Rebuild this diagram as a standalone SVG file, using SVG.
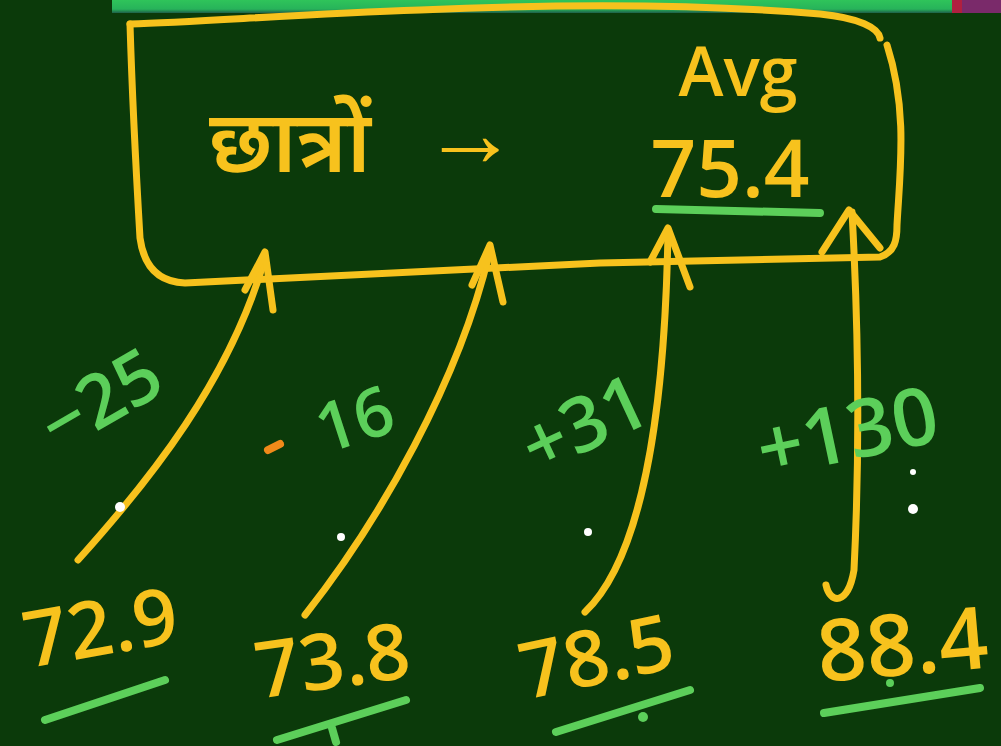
<svg xmlns="http://www.w3.org/2000/svg" width="1001" height="746" viewBox="0 0 1001 746">
<defs>
<linearGradient id="band" x1="0" y1="0" x2="0" y2="1">
<stop offset="0" stop-color="#2fc45a"/>
<stop offset="0.7" stop-color="#27b35a"/>
<stop offset="1" stop-color="#1f5f4a"/>
</linearGradient>
<style>
.y{fill:none;stroke:#f7c21d;stroke-width:7;stroke-linecap:round;stroke-linejoin:round}
.g{fill:none;stroke:#5ccf5a;stroke-width:8;stroke-linecap:round}
.ty{fill:#f7c21d;font-family:"Open Sans","Noto Sans","Liberation Sans",sans-serif;font-weight:600}
.tg{fill:#5ccf5a;font-family:"Open Sans","Noto Sans","Liberation Sans",sans-serif;font-weight:600}
.dot{fill:#ffffff}
</style>
</defs>
<rect x="0" y="0" width="1001" height="746" fill="#0b3a0a"/>
<rect x="112" y="0" width="842" height="13" fill="url(#band)"/>
<rect x="952" y="0" width="49" height="13" fill="#7a2a6a"/>
<rect x="952" y="0" width="10" height="13" fill="#b02040"/>

<g id="box">
<path class="y" d="M130,24 C200,22 300,14 420,10 C560,4 700,4 820,14 C860,18 878,28 880,38"/>
<path class="y" d="M130,24 C132,90 136,170 140,238 C144,268 160,282 185,283 L600,263 L880,257 C895,252 897,240 897,225 C900,170 908,110 887,45"/>
<text class="ty" x="290" y="172" font-size="86" text-anchor="middle" font-family="'Noto Sans Devanagari','Noto Sans','DejaVu Sans',sans-serif">छात्रों</text>
<text class="ty" x="470" y="166" font-size="96" font-weight="700" text-anchor="middle">→</text>
<text class="ty" x="738" y="96" font-size="68" text-anchor="middle">Avg</text>
<text class="ty" x="730" y="197" font-size="80" text-anchor="middle">75.4</text>
<path class="g" d="M656,209 L820,213"/>
</g>

<g id="connectors">
<path class="y" d="M78,560 C150,480 230,380 265,258"/>
<path class="y" d="M245,290 L265,252 L273,310"/>
<path class="y" d="M305,615 C380,520 460,380 490,250"/>
<path class="y" d="M472,285 L490,245 L503,302"/>
<path class="y" d="M585,612 C640,560 665,420 668,230"/>
<path class="y" d="M650,262 L668,228 L690,287"/>
<path class="y" d="M826,585 C830,604 848,606 854,570 C860,450 858,320 852,212"/>
<path class="y" d="M822,252 L849,210 L880,248"/>
</g>

<g id="diff1">
<text class="tg" x="102" y="425" font-size="74" text-anchor="middle" transform="rotate(-30 102 402)">−25</text>
</g>
<g id="diff2">
<path d="M268,450 L280,444" stroke="#f08a1a" stroke-width="8" stroke-linecap="round"/>
<text class="tg" x="355" y="443" font-size="68" text-anchor="middle" transform="rotate(-18 355 420)">16</text>
</g>
<g id="diff3">
<text class="tg" x="585" y="450" font-size="76" text-anchor="middle" transform="rotate(-25 585 425)">+31</text>
</g>
<g id="diff4">
<text class="tg" x="848" y="460" font-size="80" text-anchor="middle" transform="rotate(-12 848 435)">+130</text>
</g>

<g id="dots">
<circle class="dot" cx="120" cy="507" r="5"/>
<circle class="dot" cx="341" cy="537" r="4"/>
<circle class="dot" cx="588" cy="532" r="4"/>
<circle class="dot" cx="913" cy="509" r="5"/>
<circle class="dot" cx="913" cy="472" r="3"/>
</g>

<g id="v1">
<text class="ty" x="100" y="655" font-size="78" text-anchor="middle" transform="rotate(-10 100 625)">72.9</text>
<path class="g" d="M45,720 L165,680"/>
</g>
<g id="v2">
<text class="ty" x="332" y="688" font-size="78" text-anchor="middle" transform="rotate(-8 332 658)">73.8</text>
<path class="g" d="M277,740 L406,700"/>
<path class="g" d="M332,728 L336,742" stroke-width="6"/>
</g>
<g id="v3">
<text class="ty" x="596" y="684" font-size="78" text-anchor="middle" transform="rotate(-12 596 654)">78.5</text>
<path class="g" d="M556,732 L690,690"/>
<circle cx="643" cy="717" r="5" fill="#5ccf5a"/>
</g>
<g id="v4">
<text class="ty" x="902" y="675" font-size="86" text-anchor="middle" transform="rotate(-5 902 640)">88.4</text>
<path class="g" d="M824,713 L980,688"/>
<circle cx="890" cy="683" r="4" fill="#5ccf5a"/>
</g>
</svg>
